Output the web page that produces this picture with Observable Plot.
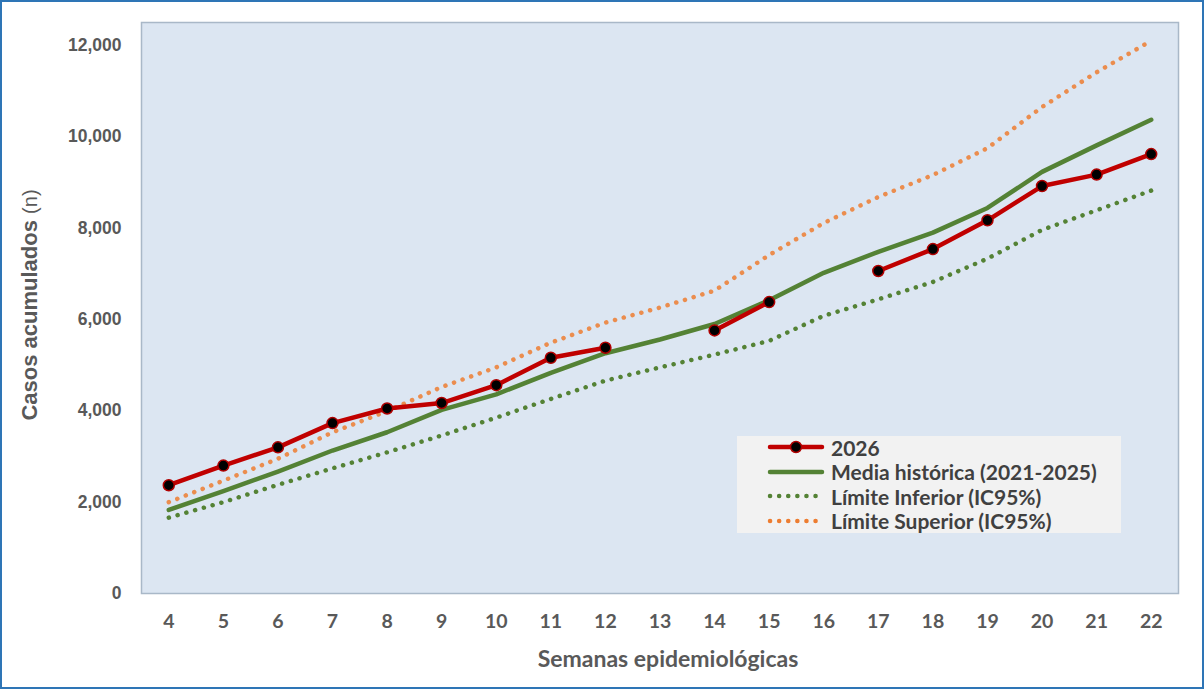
<!DOCTYPE html>
<html><head><meta charset="utf-8">
<script src="https://cdn.jsdelivr.net/npm/d3@7"></script>
<script src="https://cdn.jsdelivr.net/npm/@observablehq/plot@0.6"></script>
<style>
html,body{margin:0;padding:0;background:#fff;}
#wrap{position:relative;width:1204px;height:689px;overflow:hidden;background:#fff;}
#wrap svg{position:absolute;left:0;top:0;}
#border{position:absolute;left:0;top:0;width:1204px;height:689px;box-sizing:border-box;border:2px solid #2E75B6;pointer-events:none;}
#ytitle{position:absolute;left:-170px;top:292px;width:400px;text-align:center;transform:rotate(-90deg);transform-origin:center;font-family:"Liberation Sans",Arial,sans-serif;font-size:22px;color:#595959;line-height:26px;white-space:nowrap;}
#ytitle b{font-weight:bold;}
#ytitle span{font-size:20px;}
#xtitle{position:absolute;left:468px;top:644px;width:400px;text-align:center;font-family:"Lato",sans-serif;font-weight:bold;font-size:23px;color:#595959;white-space:nowrap;}
#legend{position:absolute;left:737px;top:436px;width:384px;height:97px;background:#F2F2F2;box-sizing:border-box;}
.row{position:absolute;left:30px;height:24px;display:flex;align-items:center;font-family:"Lato",sans-serif;font-weight:bold;font-size:21px;color:#404040;white-space:nowrap;}
.row svg{position:static !important;margin-right:6px;}
</style></head>
<body>
<div id="wrap">
  <div id="ytitle"><b>Casos acumulados</b> <span>(n)</span></div>
  <div id="xtitle">Semanas epidemiológicas</div>
  <div id="legend"></div>
  <div id="border"></div>
</div>
<script>
const weeks = ["4","5","6","7","8","9","10","11","12","13","14","15","16","17","18","19","20","21","22"];
const casos2026 = [2370, 2800, 3200, 3730, 4050, 4170, 4560, 5160, 5380, null, 5760, 6380, null, 7060, 7540, 8170, 8920, 9170, 9620];
const mediaHistorica = [1830, 2240, 2670, 3130, 3530, 4020, 4360, 4830, 5260, 5560, 5900, 6420, 7020, 7480, 7900, 8440, 9230, 9810, 10370];
const limiteInferior = [1660, 2000, 2380, 2740, 3090, 3460, 3850, 4260, 4660, 4950, 5230, 5530, 6080, 6440, 6820, 7330, 7960, 8390, 8820];
const limiteSuperior = [2000, 2470, 2950, 3530, 3990, 4520, 4950, 5490, 5930, 6260, 6630, 7410, 8110, 8680, 9160, 9750, 10650, 11410, 12100];
const yTicks = [0, 2000, 4000, 6000, 8000, 10000, 12000];
const seriesNames = ["2026", "Media histórica (2021-2025)", "Límite Inferior (IC95%)", "Límite Superior (IC95%)"];

const toRows = vals => weeks.map((w, i) => ({semana: w, valor: vals[i]}));
const d2026 = toRows(casos2026);
const dMedia = toRows(mediaHistorica);
const dInf = toRows(limiteInferior);
const dSup = toRows(limiteSuperior);

const RED = "#C00000", GREEN = "#548235", ORANGE = "#ED7D31";

const chart = Plot.plot({
  width: 1204, height: 689,
  marginLeft: 141, marginRight: 26, marginTop: 22, marginBottom: 96,
  style: {background: "transparent", color: "#595959", overflow: "visible"},
  x: {type: "point", domain: weeks, padding: 0.5, round: false, label: null},
  y: {domain: [0, 12500], label: null},
  marks: [
    Plot.frame({fill: "#DCE6F2", stroke: "#A9B8C8", strokeWidth: 1.5}),
    Plot.axisY({ticks: yTicks, tickFormat: d3.format(","), tickSize: 0, tickPadding: 20, label: null,
      fontSize: 17.5, fontWeight: "bold", fontFamily: '"Liberation Sans",Arial,sans-serif', fill: "#595959"}),
    Plot.axisX({tickSize: 0, tickPadding: 21, label: null, fontSize: 19.5, fontWeight: "bold", fontFamily: '"Lato",sans-serif', fill: "#595959"}),
    Plot.line(dInf, {x: "semana", y: "valor", stroke: GREEN, strokeWidth: 4.5, strokeDasharray: "0.1,9", strokeLinecap: "round"}),
    Plot.line(dSup, {x: "semana", y: "valor", stroke: ORANGE, strokeWidth: 4.5, strokeDasharray: "0.1,9", strokeLinecap: "round", strokeOpacity: 0.85}),
    Plot.line(dMedia, {x: "semana", y: "valor", stroke: GREEN, strokeWidth: 4.5, strokeLinejoin: "round", strokeLinecap: "round"}),
    Plot.line(d2026, {x: "semana", y: "valor", stroke: RED, strokeWidth: 4.5, strokeLinejoin: "round", strokeLinecap: "round"}),
    Plot.dot(d2026.filter(d => d.valor != null), {x: "semana", y: "valor", r: 5.5, fill: "#000", stroke: "#B00000", strokeWidth: 1.5})
  ]
});
document.getElementById("wrap").insertBefore(chart, document.getElementById("ytitle"));

// legend
const legend = document.getElementById("legend");
const samples = [
  {stroke: RED, dash: null, dot: true},
  {stroke: GREEN, dash: null, dot: false},
  {stroke: GREEN, dash: "0.1,9", dot: false},
  {stroke: ORANGE, dash: "0.1,9", dot: false}
];
seriesNames.forEach((name, i) => {
  const row = document.createElement("div");
  row.className = "row";
  row.style.top = (-1 + i * 24.5) + "px";
  const s = samples[i];
  const svg = d3.create("svg").attr("width", 58).attr("height", 20);
  svg.append("line").attr("x1", 3).attr("x2", 55).attr("y1", 10).attr("y2", 10)
    .attr("stroke", s.stroke).attr("stroke-width", 4.5).attr("stroke-linecap", "round")
    .attr("stroke-dasharray", s.dash);
  if (s.dot) svg.append("circle").attr("cx", 29).attr("cy", 10).attr("r", 5.5).attr("fill", "#000").attr("stroke", "#B00000").attr("stroke-width", 1.5);
  row.appendChild(svg.node());
  const t = document.createElement("span");
  t.textContent = name;
  row.appendChild(t);
  legend.appendChild(row);
});
</script>
</body></html>
